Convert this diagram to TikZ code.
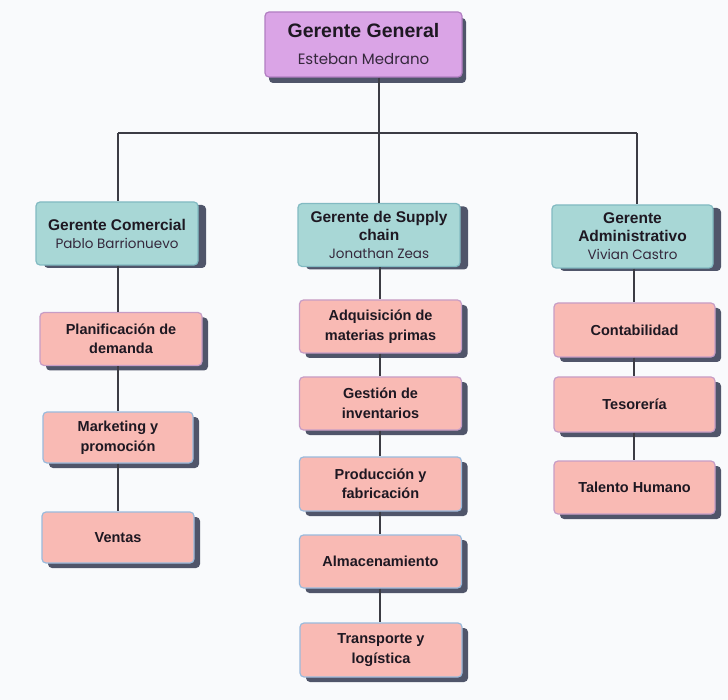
\documentclass[tikz,border=0pt]{standalone}
\usepackage{fontspec}
\setmainfont{Liberation Sans}
\newfontfamily\namefont{Poppins}
\usetikzlibrary{shadows}

\definecolor{bg}{HTML}{F9FAFC}
\definecolor{ink}{HTML}{1E1822}
\definecolor{nameink}{HTML}{35283C}
\definecolor{ggfill}{HTML}{DAA4E6}
\definecolor{ggline}{HTML}{B27EC2}
\definecolor{tealfill}{HTML}{A8D7D6}
\definecolor{tealline}{HTML}{82BAC2}
\definecolor{pinkfill}{HTML}{F9BAB4}
\definecolor{pinkline}{HTML}{C79DC6}
\definecolor{blueline}{HTML}{9ABADC}
\definecolor{shade}{HTML}{50556A}
\definecolor{wire}{HTML}{3C3C44}

\newcommand\pname[1]{{\normalfont\namefont\fontsize{13.5}{17}\selectfont\color{nameink}#1}}

\tikzset{
  box/.style={rectangle, rounded corners=4pt, line width=1.2pt, align=center,
    inner sep=2pt, text=ink},
  ggbox/.style={box, fill=ggfill, draw=ggline, minimum width=197pt, minimum height=65pt,
    font=\bfseries\fontsize{19.5}{23}\selectfont,
    drop shadow={shadow xshift=4pt, shadow yshift=-6pt, fill=shade, opacity=1}},
  mgrbox/.style={box, fill=tealfill, draw=tealline, minimum width=162pt, minimum height=63pt,
    font=\bfseries\fontsize{15.5}{18}\selectfont,
    drop shadow={shadow xshift=8pt, shadow yshift=-3pt, fill=shade, opacity=1}},
  taskbox/.style={box, fill=pinkfill, draw=pinkline, minimum width=162pt, minimum height=53pt,
    font=\bfseries\fontsize{14.5}{19.5}\selectfont,
    drop shadow={shadow xshift=6pt, shadow yshift=-5pt, fill=shade, opacity=1}},
  bluerim/.style={draw=blueline},
  conn/.style={draw=wire, line width=1.1pt}
}

\begin{document}
\begin{tikzpicture}[x=1pt, y=-1pt]
\fill[bg] (0,0) rectangle (728,700);
\useasboundingbox (0,0) rectangle (728,700);

% bus line and column axes
\coordinate (busL) at (118,133);
\coordinate (busM) at (379,133);
\coordinate (busR) at (637,133);
\coordinate (colL) at (118,0);
\coordinate (colM) at (380,0);
\coordinate (colR) at (634,0);

% general manager
\node[ggbox] (gg) at (363.5,44.5) {Gerente General\\[4pt]\pname{\fontsize{15}{18}\selectfont Esteban Medrano}};

% managers
\node[mgrbox] (com) at (117,233.5) {Gerente Comercial\\\pname{Pablo Barrionuevo}};
\node[mgrbox] (sup) at (379,235) {Gerente de Supply\\chain\\\pname{Jonathan Zeas}};
\node[mgrbox, minimum width=161pt] (adm) at (632.5,236.5) {Gerente\\Administrativo\\\pname{Vivian Castro}};

% commercial area
\node[taskbox] (plan) at (121,339) {Planificación de\\demanda};
\node[taskbox, bluerim, minimum width=150pt, minimum height=51pt] (mkt) at (118,437.5) {Marketing y\\promoción};
\node[taskbox, bluerim, minimum width=152pt, minimum height=51pt] (ven) at (118,537.5) {Ventas};

% supply chain area
\node[taskbox] (adq) at (380.5,326.5) {Adquisición de\\materias primas};
\node[taskbox] (ges) at (380.5,403.5) {Gestión de\\inventarios};
\node[taskbox, bluerim, minimum height=54pt] (pro) at (380.5,484) {Producción y\\fabricación};
\node[taskbox, bluerim] (alm) at (380.5,561.5) {Almacenamiento};
\node[taskbox, bluerim, minimum height=54pt] (tra) at (381,650) {Transporte y\\logística};

% administrative area
\node[taskbox, minimum width=161pt, minimum height=54pt] (con) at (634.5,330) {Contabilidad};
\node[taskbox, minimum width=161pt, minimum height=55pt] (tes) at (634.5,404.5) {Tesorería};
\node[taskbox, minimum width=161pt] (tal) at (634.5,487.5) {Talento Humano};

% connectors
\draw[conn] (gg.south -| busM) -- (busM);
\draw[conn] (busL) -- (busR);
\draw[conn] (busL) -- (busL |- com.north);
\draw[conn] (busM) -- (busM |- sup.north);
\draw[conn] (busR) -- (busR |- adm.north);

\draw[conn] (com.south -| colL) -- (plan.north -| colL);
\draw[conn] (plan.south -| colL) -- (mkt.north -| colL);
\draw[conn] (mkt.south -| colL) -- (ven.north -| colL);

\draw[conn] (sup.south -| colM) -- (adq.north -| colM);
\draw[conn] (adq.south -| colM) -- (ges.north -| colM);
\draw[conn] (ges.south -| colM) -- (pro.north -| colM);
\draw[conn] (pro.south -| colM) -- (alm.north -| colM);
\draw[conn] (alm.south -| colM) -- (tra.north -| colM);

\draw[conn] (adm.south -| colR) -- (con.north -| colR);
\draw[conn] (con.south -| colR) -- (tes.north -| colR);
\draw[conn] (tes.south -| colR) -- (tal.north -| colR);
\end{tikzpicture}
\end{document}
